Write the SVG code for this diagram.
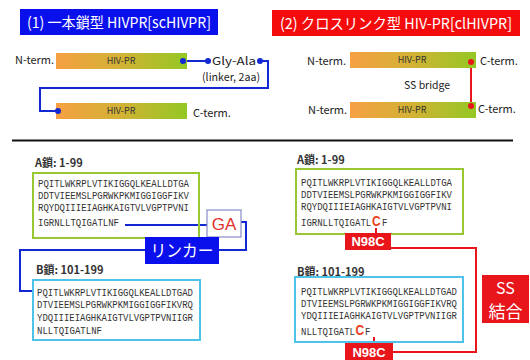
<svg xmlns="http://www.w3.org/2000/svg" width="530" height="360" viewBox="0 0 530 360">
<defs>
<linearGradient id="bar" x1="0" y1="0" x2="1" y2="0">
<stop offset="0" stop-color="#F6A043"/>
<stop offset="0.5" stop-color="#D2B234"/>
<stop offset="1" stop-color="#93C824"/>
</linearGradient>
<style>
.sans{font-family:"Noto Sans CJK JP","Noto Sans",sans-serif;}
.lbl{font-family:"Noto Sans CJK JP","Noto Sans",sans-serif;font-size:11px;fill:#222;}
.bl{font-family:"Noto Sans CJK JP","Noto Sans",sans-serif;font-size:9px;fill:#333;text-anchor:middle;}
.seq{font-family:"Liberation Mono",monospace;font-size:11px;fill:#333;}
.seq9{font-family:"Liberation Mono",monospace;font-size:9px;fill:#333;}
.hd{font-family:"Noto Sans CJK JP","Noto Sans",sans-serif;font-size:11px;fill:#333;font-weight:bold;}
.bline{fill:none;stroke:#1228D2;stroke-width:2;}
.rline{fill:none;stroke:#E8151B;stroke-width:2;}
.bdot{fill:#1228D2;}
.rdot{fill:#E8151B;}
.wt{fill:#fff;}
.redC{font-family:"Liberation Sans",sans-serif;font-weight:bold;font-size:12px;fill:#E8401C;}
</style>
</defs>
<rect width="530" height="360" fill="#fff"/>

<g id="title1">
<rect x="20" y="9" width="198" height="26" fill="#0A10EC"/>
<text class="sans wt" x="27" y="28" font-size="15" textLength="184" lengthAdjust="spacingAndGlyphs">(1) 一本鎖型 HIVPR[scHIVPR]</text>
</g>
<g id="title2">
<rect x="272" y="10" width="248" height="26" fill="#F40C0C"/>
<text class="sans wt" x="280" y="29" font-size="15" textLength="232" lengthAdjust="spacingAndGlyphs">(2) クロスリンク型 HIV-PR[clHIVPR]</text>
</g>

<g id="connectors">
<line class="bline" x1="183" y1="61" x2="208" y2="61"/>
<polyline class="bline" points="260,61 268,61 268,88 40,88 40,111 58,111"/>
<line class="rline" x1="471" y1="62" x2="471" y2="106"/>
<line x1="12" y1="140.5" x2="513" y2="140.5" stroke="#111" stroke-width="2"/>
<polyline class="bline" points="125,225 207,225"/>
<polyline class="bline" points="241,222 246,222 246,250 219,250"/>
<polyline class="bline" points="145,250 20,250 20,291 34,291"/>
<line class="rline" x1="376" y1="228" x2="376" y2="234"/>
<polyline class="rline" points="391,248 476,248 476,352 393,352"/>
<line class="rline" x1="374" y1="337" x2="374" y2="343"/>
</g>

<g id="sc-bar1">
<text class="lbl" x="15" y="64">N-term.</text>
<rect x="56" y="53" width="131" height="16" fill="url(#bar)"/>
<text class="bl" x="121" y="64">HIV-PR</text>
<circle class="bdot" cx="183" cy="61" r="3"/>
</g>
<g id="linker-top">
<circle class="bdot" cx="208" cy="61" r="3"/>
<text class="lbl" x="212" y="64.5" textLength="44" lengthAdjust="spacingAndGlyphs">Gly-Ala</text>
<circle class="bdot" cx="260" cy="61" r="3"/>
<text class="lbl" x="202" y="80.5" textLength="58" lengthAdjust="spacingAndGlyphs">(linker, 2aa)</text>
</g>
<g id="sc-bar2">
<rect x="56" y="103" width="131" height="16" fill="url(#bar)"/>
<circle class="bdot" cx="58" cy="111" r="3"/>
<text class="bl" x="121" y="114">HIV-PR</text>
<text class="lbl" x="193" y="117">C-term.</text>
</g>

<g id="cl-bar1">
<text class="lbl" x="307" y="65">N-term.</text>
<rect x="350" y="52" width="126" height="16" fill="url(#bar)"/>
<text class="bl" x="412" y="63">HIV-PR</text>
<circle class="rdot" cx="471" cy="62" r="3"/>
<text class="lbl" x="480" y="65">C-term.</text>
</g>
<g id="ss-label">
<text class="lbl" x="404" y="89" textLength="46" lengthAdjust="spacingAndGlyphs">SS bridge</text>
</g>
<g id="cl-bar2">
<text class="lbl" x="308" y="114">N-term.</text>
<rect x="350" y="102" width="126" height="16" fill="url(#bar)"/>
<text class="bl" x="412" y="113">HIV-PR</text>
<circle class="rdot" cx="471" cy="106" r="3"/>
<text class="lbl" x="478" y="113">C-term.</text>
</g>

<g id="sc-chainA">
<text class="hd" x="35" y="167">A鎖: 1-99</text>
<rect x="33" y="173" width="166" height="65" fill="none" stroke="#99C633" stroke-width="2"/>
<text class="seq" x="38" y="187" textLength="151" lengthAdjust="spacingAndGlyphs">PQITLWKRPLVTIKIGGQLKEALLDTGA</text>
<text class="seq" x="38" y="199" textLength="151" lengthAdjust="spacingAndGlyphs">DDTVIEEMSLPGRWKPKMIGGIGGFIKV</text>
<text class="seq" x="38" y="211" textLength="151" lengthAdjust="spacingAndGlyphs">RQYDQIIIEIAGHKAIGTVLVGPTPVNI</text>
<text class="seq" x="38" y="226" textLength="81" lengthAdjust="spacingAndGlyphs">IGRNLLTQIGATLNF</text>
</g>
<g id="ga">
<rect x="207" y="210" width="34" height="27" fill="#fff" stroke="#8A8ACC" stroke-width="1.2"/>
<text x="224" y="230" text-anchor="middle" font-family="Liberation Sans,sans-serif" font-size="17" fill="#E0302C">GA</text>
</g>
<g id="linker">
<rect x="145" y="237" width="74" height="27" fill="#0A10EC"/>
<text class="sans wt" x="182" y="257" font-size="17" text-anchor="middle" textLength="63" lengthAdjust="spacingAndGlyphs">リンカー</text>
</g>
<g id="sc-chainB">
<text class="hd" x="36" y="274">B鎖: 101-199</text>
<rect x="33" y="280" width="167" height="60" fill="none" stroke="#4EC2E8" stroke-width="2"/>
<text class="seq" x="37" y="296" textLength="156" lengthAdjust="spacingAndGlyphs">PQITLWKRPLVTIKIGGQLKEALLDTGAD</text>
<text class="seq" x="37" y="308" textLength="156" lengthAdjust="spacingAndGlyphs">DTVIEEMSLPGRWKPKMIGGIGGFIKVRQ</text>
<text class="seq" x="37" y="321" textLength="156" lengthAdjust="spacingAndGlyphs">YDQIIIEIAGHKAIGTVLVGPTPVNIIGR</text>
<text class="seq" x="37" y="334" textLength="65" lengthAdjust="spacingAndGlyphs">NLLTQIGATLNF</text>
</g>

<g id="cl-chainA">
<text class="hd" x="297" y="164">A鎖: 1-99</text>
<rect x="296" y="169" width="167" height="65" fill="none" stroke="#99C633" stroke-width="2"/>
<text class="seq" x="301" y="186" textLength="151" lengthAdjust="spacingAndGlyphs">PQITLWKRPLVTIKIGGQLKEALLDTGA</text>
<text class="seq" x="301" y="198" textLength="151" lengthAdjust="spacingAndGlyphs">DDTVIEEMSLPGRWKPKMIGGIGGFIKV</text>
<text class="seq" x="301" y="210" textLength="151" lengthAdjust="spacingAndGlyphs">RQYDQIIIEIAGHKAIGTVLVGPTPVNI</text>
<g transform="matrix(1 0 0 1.2 0 -45.2)">
<text class="seq9" x="301" y="226">IGRNLLTQIGATL</text>
<text class="redC" x="372" y="226">C</text>
<text class="seq9" x="382" y="226">F</text>
</g>
</g>
<g id="n98c-a">
<rect x="345" y="233" width="46" height="17" fill="#E8151B"/>
<text x="368" y="246" text-anchor="middle" font-family="Liberation Sans,sans-serif" font-weight="bold" font-size="13" fill="#fff">N98C</text>
</g>
<g id="cl-chainB">
<text class="hd" x="297" y="276">B鎖: 101-199</text>
<rect x="295" y="277" width="168" height="65" fill="none" stroke="#4EC2E8" stroke-width="2"/>
<text class="seq" x="301" y="295" textLength="156" lengthAdjust="spacingAndGlyphs">PQITLWKRPLVTIKIGGQLKEALLDTGAD</text>
<text class="seq" x="301" y="307" textLength="156" lengthAdjust="spacingAndGlyphs">DTVIEEMSLPGRWKPKMIGGIGGFIKVRQ</text>
<text class="seq" x="301" y="319" textLength="156" lengthAdjust="spacingAndGlyphs">YDQIIIEIAGHKAIGTVLVGPTPVNIIGR</text>
<g transform="matrix(1 0 0 1.2 0 -67)">
<text class="seq9" x="301" y="335">NLLTQIGATL</text>
<text class="redC" x="355.5" y="335">C</text>
<text class="seq9" x="365" y="335">F</text>
</g>
</g>
<g id="n98c-b">
<rect x="345" y="343" width="48" height="17" fill="#E8151B"/>
<text x="369" y="357" text-anchor="middle" font-family="Liberation Sans,sans-serif" font-weight="bold" font-size="13" fill="#fff">N98C</text>
</g>
<g id="ss-bond">
<rect x="482" y="275" width="47" height="48" fill="#E8151B"/>
<text class="sans wt" x="505.5" y="294" font-size="16" text-anchor="middle">SS</text>
<text class="sans wt" x="505.5" y="318" font-size="17" text-anchor="middle">結合</text>
</g>
</svg>
